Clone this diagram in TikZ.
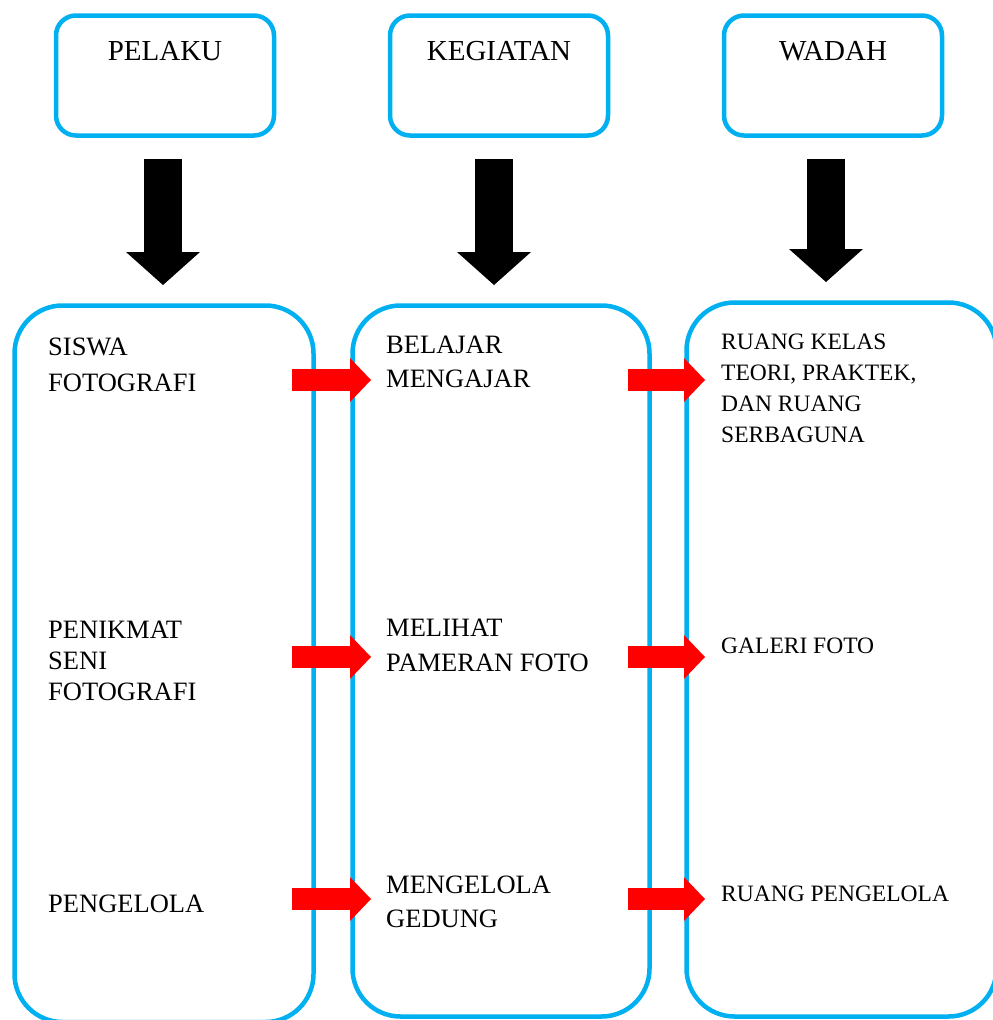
\documentclass[tikz,border=0pt]{standalone}
\usepackage{fontspec}
\setmainfont{Liberation Serif}
\usetikzlibrary{arrows.meta, positioning}
\definecolor{boxcyan}{RGB}{0,176,240}

\begin{document}
\begin{tikzpicture}[
      x=1pt, y=-1pt,
      node distance=116pt,
      headbox/.style={rectangle, draw=boxcyan, line width=4.5pt, rounded corners=20pt, inner sep=0pt, outer sep=0pt, minimum width=218pt, text height=44.5pt, text depth=75.5pt, font=\fontsize{29}{35}\selectfont},
      colbox/.style={rectangle, draw=boxcyan, line width=4.5pt, rounded corners=48pt, inner sep=0pt, outer sep=0pt, anchor=north west},
      txt/.style={anchor=north west, inner sep=0pt, align=left, font=\fontsize{26.5}{34}\selectfont},
      smalltxt/.style={txt, font=\fontsize{23.5}{31}\selectfont},
      downarrow/.style={-{Triangle[length=33pt, width=74pt, line width=0pt]}, line width=38pt, shorten <=23.5pt, shorten >=20.5pt},
      flowarrow/.style={-{Triangle[length=21pt, width=44pt, line width=0pt]}, line width=22pt, red, shorten <=-21.5pt, shorten >=-18.5pt}
    ]
    \useasboundingbox (0,0) rectangle (993,1020);

    \node[headbox] (pelaku) at (165,75.5) {PELAKU};
    \node[headbox, right=of pelaku] (kegiatan) {KEGIATAN};
    \node[headbox, right=of kegiatan] (wadah) {WADAH};

    \node[colbox, minimum width=299pt, minimum height=716.5pt] (pelakubox) at (14.5,305.5) {};
    \node[colbox, minimum width=297pt, minimum height=711pt] (kegiatanbox) at (352.5,305.5) {};
    \node[colbox, minimum width=310pt, minimum height=714pt] (wadahbox) at (686.5,302.5) {};

    \node[txt, font=\fontsize{26.5}{36}\selectfont] (siswa) at (48,337.5) {SISWA\\FOTOGRAFI};
    \node[txt, font=\fontsize{26.5}{31}\selectfont] (penikmat) at (48,620.5) {PENIKMAT\\SENI\\FOTOGRAFI};
    \node[txt] (pengelola) at (48,894.5) {PENGELOLA};

    \node[txt] (belajar) at (386,335.5) {BELAJAR\\MENGAJAR};
    \node[txt, font=\fontsize{26.5}{35}\selectfont] (melihat) at (386,618.5) {MELIHAT\\PAMERAN FOTO};
    \node[txt] (mengelola) at (386,876) {MENGELOLA\\GEDUNG};

    \node[smalltxt] (ruangkelas) at (721,333.5) {RUANG KELAS\\TEORI, PRAKTEK,\\DAN RUANG\\SERBAGUNA};
    \node[smalltxt] (galeri) at (721,638) {GALERI FOTO};
    \node[smalltxt] (ruangpengelola) at (721,885.5) {RUANG PENGELOLA};

    \coordinate (rowa) at (0,380);
    \coordinate (rowb) at (0,657);
    \coordinate (rowc) at (0,899);

    \draw[downarrow] ([xshift=-2pt]pelaku.south) -- ([xshift=-2pt]pelaku.south |- pelakubox.north);
    \draw[downarrow] ([xshift=-5pt]kegiatan.south) -- ([xshift=-5pt]kegiatan.south |- kegiatanbox.north);
    \draw[downarrow] ([xshift=-7pt]wadah.south) -- ([xshift=-7pt]wadah.south |- wadahbox.north);

    \draw[flowarrow] (pelakubox.east |- rowa) -- (kegiatanbox.west |- rowa);
    \draw[flowarrow] (kegiatanbox.east |- rowa) -- (wadahbox.west |- rowa);
    \draw[flowarrow] (pelakubox.east |- rowb) -- (kegiatanbox.west |- rowb);
    \draw[flowarrow] (kegiatanbox.east |- rowb) -- (wadahbox.west |- rowb);
    \draw[flowarrow] (pelakubox.east |- rowc) -- (kegiatanbox.west |- rowc);
    \draw[flowarrow] (kegiatanbox.east |- rowc) -- (wadahbox.west |- rowc);
  \end{tikzpicture}
\end{document}
